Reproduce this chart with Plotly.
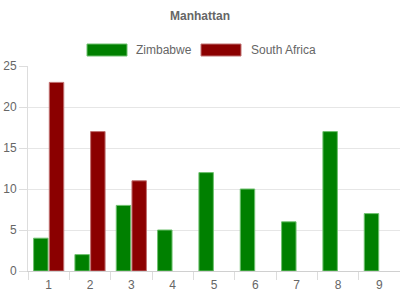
import plotly.graph_objects as go

categories = ["1", "2", "3", "4", "5", "6", "7", "8", "9"]
zimbabwe = [4, 2, 8, 5, 12, 10, 6, 17, 7]
south_africa = [23, 17, 11, None, None, None, None, None, None]
series_names = ["Zimbabwe", "South Africa"]
fills = ["#008000", "#8b0000"]
edges = ["#6fc06f", "#c07070"]
y_ticks = [0, 5, 10, 15, 20, 25]

FONT = "Liberation Sans, Arial, sans-serif"
W, H = 400, 300
ML, MR, MT, MB = 28, 0, 66, 29
pw, ph = W - ML - MR, H - MT - MB

fig = go.Figure()
for name, vals, f, e in zip(series_names, [zimbabwe, south_africa], fills, edges):
    fig.add_trace(go.Bar(x=categories, y=vals, name=name,
                         marker=dict(color=f, line=dict(color=e, width=1)),
                         showlegend=False))

def px2x(p):
    return (p - ML) / pw

def py2y(p):
    return (H - MB - p) / ph

# Legend drawn manually (wide swatches)
legend_items = [(87, 134), (201, 249)]
for (sx, tx), name, f, e in zip(legend_items, series_names, fills, edges):
    fig.add_shape(type="rect", xref="paper", yref="paper",
                  x0=px2x(sx), x1=px2x(sx + 40), y0=py2y(56), y1=py2y(44),
                  fillcolor=f, line=dict(color=e, width=1))
    fig.add_annotation(xref="paper", yref="paper", x=px2x(tx), y=py2y(50),
                       text=name, showarrow=False, xanchor="left", yanchor="middle",
                       font=dict(family=FONT, size=12, color="#666666"))

fig.update_layout(
    width=W, height=H,
    margin=dict(l=ML, r=MR, t=MT, b=MB, pad=0),
    paper_bgcolor="white", plot_bgcolor="white",
    barmode="group", bargap=0.24, bargroupgap=0.08,
    title=dict(text="<b>Manhattan</b>", x=0.5, xanchor="center", y=1 - 16 / H,
               yanchor="middle", font=dict(family=FONT, size=12, color="#666666")),
    font=dict(family=FONT, size=12, color="#666666"),
)
fig.update_xaxes(type="category", tickson="boundaries", ticks="outside", ticklen=8,
                 tickcolor="#dddddd", showline=True, linecolor="#d0d0d0", linewidth=1,
                 showgrid=False, ticklabelstandoff=3,
                 tickfont=dict(family=FONT, size=12, color="#666666"))
fig.update_yaxes(range=[0, 25], tickvals=y_ticks, ticks="outside", ticklen=8,
                 tickcolor="#dddddd", showline=True, linecolor="#dddddd", linewidth=1,
                 gridcolor="#e6e6e6", zeroline=False,
                 tickfont=dict(family=FONT, size=12, color="#666666"))

fig.write_html("out.html")
